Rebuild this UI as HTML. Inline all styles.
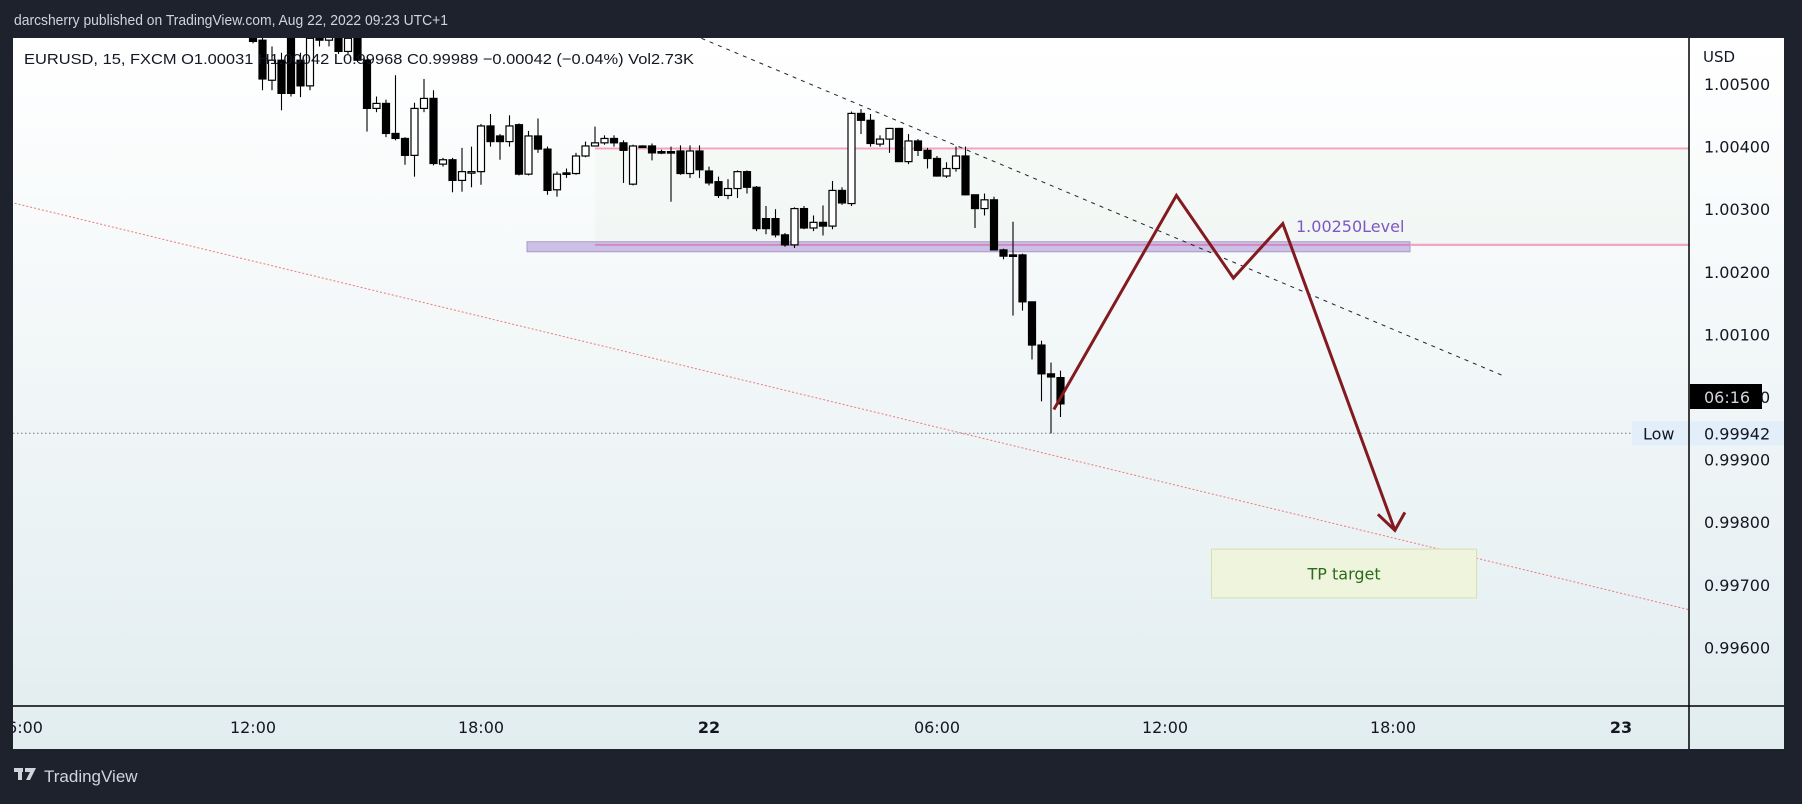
<!DOCTYPE html>
<html><head><meta charset="utf-8">
<style>
html,body{margin:0;padding:0;background:#1e222d;}
body{width:1802px;height:799px;overflow:hidden;font-family:"Liberation Sans","DejaVu Sans",sans-serif;}
svg text{font-family:"DejaVu Sans","Liberation Sans",sans-serif;}
</style></head>
<body>
<svg id="chart" width="1802" height="799" xmlns="http://www.w3.org/2000/svg">
<defs>
<linearGradient id="bg" x1="0" y1="0" x2="0" y2="1">
<stop offset="0" stop-color="#ffffff"/><stop offset="1" stop-color="#e2edf0"/>
</linearGradient>
</defs>
<rect x="0" y="0" width="1802" height="799" fill="#1e222d"/>
<text x="14" y="25" fill="#d1d4dc" font-size="15" textLength="434" lengthAdjust="spacingAndGlyphs" style="font-family:'Liberation Sans',sans-serif">darcsherry published on TradingView.com, Aug 22, 2022 09:23 UTC+1</text>
<rect x="13" y="38" width="1771" height="711" fill="url(#bg)"/>
<rect x="595" y="150" width="1094" height="94" fill="#e8f3e8" opacity="0.3"/>
<g id="plot"></g>
<line x1="13" y1="706" x2="1784" y2="706" stroke="#000" stroke-width="1.5"/>
<line x1="1689" y1="38" x2="1689" y2="749" stroke="#000" stroke-width="1.5"/>
<text x="24" y="64" fill="#131722" font-size="15" textLength="670" lengthAdjust="spacingAndGlyphs" style="font-family:'Liberation Sans',sans-serif">EURUSD, 15, FXCM  O1.00031  H1.00042  L0.99968  C0.99989  −0.00042 (−0.04%)  Vol2.73K</text>
<text x="1703" y="62" fill="#131722" font-size="15">USD</text>
<g id="yticks"></g>
<g id="xticks"></g>
<g>
<rect x="14" y="768" width="9" height="4" fill="#d1d4dc"/><rect x="18" y="768" width="4" height="12" fill="#d1d4dc"/>
<polygon points="25,768 36,768 30,780 26,780 30,772 25,772" fill="#d1d4dc"/>
<text x="44" y="782" fill="#d1d4dc" font-size="17" style="font-family:'Liberation Sans',sans-serif">TradingView</text>
</g>
</svg>
<script>
const times=[];for(let i=0;i<86;i++)times.push(i);
const opens=[1.00573,1.0057,1.00506,1.00538,1.00573,1.00538,1.00497,1.00573,1.0057,1.00573,1.00552,1.00573,1.00538,1.00461,1.00469,1.00421,1.00413,1.00386,1.00461,1.00477,1.00372,1.00379,1.00346,1.0036,1.0036,1.00433,1.00417,1.00408,1.00435,1.00356,1.00417,1.00396,1.00331,1.00358,1.00357,1.00385,1.00401,1.00406,1.00413,1.00406,1.0034,1.00401,1.00401,1.00392,1.00392,1.00393,1.00357,1.00393,1.00361,1.00344,1.00322,1.00333,1.0036,1.00335,1.00285,1.00285,1.00259,1.00243,1.00301,1.0027,1.00279,1.00273,1.0033,1.00309,1.00453,1.00442,1.00404,1.00412,1.00429,1.00376,1.00409,1.00394,1.00381,1.00353,1.00365,1.00385,1.00323,1.00301,1.00315,1.00235,1.00227,1.00227,1.00152,1.00083,1.00037,1.00031];
const highs=[1.0058,1.0058,1.0056,1.0055,1.0058,1.0055,1.0058,1.0058,1.0058,1.0058,1.0058,1.0058,1.0054,1.0048,1.00475,1.00514,1.00415,1.0047,1.00508,1.0049,1.00382,1.00382,1.00398,1.004,1.00436,1.00452,1.0042,1.0045,1.00437,1.00425,1.00445,1.004,1.0036,1.00365,1.0039,1.00408,1.00432,1.00418,1.00418,1.0041,1.00403,1.00402,1.00405,1.00395,1.004,1.00402,1.00402,1.00402,1.00368,1.00352,1.00348,1.00362,1.00362,1.00337,1.00305,1.003,1.00262,1.00303,1.00305,1.0029,1.00306,1.00345,1.00335,1.00456,1.0046,1.00452,1.00418,1.0043,1.0043,1.0042,1.00412,1.00398,1.00385,1.00375,1.004,1.004,1.00323,1.00325,1.0032,1.00237,1.0028,1.00229,1.00152,1.0009,1.00055,1.00042];
const lows=[1.00565,1.0049,1.0049,1.00458,1.0048,1.00479,1.0049,1.0056,1.0056,1.00548,1.00548,1.00535,1.00424,1.00455,1.00415,1.0041,1.00371,1.00352,1.00455,1.0037,1.00368,1.00327,1.00328,1.00335,1.00339,1.004,1.00379,1.004,1.00354,1.00354,1.0039,1.00323,1.0032,1.0035,1.00355,1.00383,1.004,1.00403,1.004,1.00342,1.00338,1.00399,1.00378,1.00388,1.00312,1.00355,1.0035,1.0035,1.00338,1.00318,1.00316,1.00318,1.00325,1.00265,1.0026,1.00255,1.0024,1.00238,1.00268,1.00265,1.00258,1.00268,1.00307,1.00305,1.0042,1.004,1.004,1.0039,1.00376,1.00372,1.00385,1.00365,1.00352,1.0035,1.0036,1.00322,1.0027,1.0029,1.00234,1.0022,1.0013,1.00138,1.0006,0.99993,0.99942,0.99968];
const closes=[1.00568,1.00508,1.00538,1.00485,1.00485,1.00497,1.00573,1.0057,1.00575,1.00552,1.00573,1.00538,1.00461,1.00469,1.00421,1.00413,1.00386,1.00461,1.00477,1.00373,1.00379,1.00346,1.0036,1.0036,1.00433,1.00408,1.00408,1.00433,1.00356,1.00417,1.00396,1.0033,1.00356,1.00356,1.00385,1.00401,1.00406,1.00413,1.00406,1.00394,1.00401,1.004,1.0039,1.00391,1.00391,1.00357,1.00393,1.00363,1.00342,1.00322,1.00333,1.0036,1.00335,1.00269,1.00269,1.00259,1.00243,1.00301,1.0027,1.00279,1.00273,1.0033,1.0031,1.00453,1.00442,1.00405,1.00412,1.00429,1.00376,1.00409,1.00394,1.00381,1.00353,1.00365,1.00385,1.00323,1.00301,1.00315,1.00235,1.00225,1.00225,1.00152,1.00083,1.00037,1.00032,0.99989];
const yTickValues=[1.005,1.004,1.003,1.002,1.001,1.000,0.999,0.998,0.997,0.996];
const xTickLabels=["6:00","12:00","18:00","22","06:00","12:00","18:00","23"];
const xTickBars=[-24,0,24,48,72,96,120,144];
const resistanceLevel=1.00397, supportLevel=1.00235, bandTop=1.00248, bandBottom=1.00232, lowValue=0.99942, lastValue=0.99989;
const trendStart=[47.2,1.00573], trendEnd=[131.6,1.00034];
const channelStart=[-25.5,1.00311], channelEnd=[151.2,0.99660];
const pathBars=[84.3,97.2,103.2,108.4,120.2];
const pathPrices=[0.99980,1.00322,1.00190,1.00277,0.99787];
const tpBox=[100.9,128.8,0.99757,0.99679];

const NS="http://www.w3.org/2000/svg";
const X=i=>253+i*9.5;
const Y=p=>84+(1.005-p)*62600;
const plot=document.getElementById('plot');
function mk(tag,attrs,parent){const e=document.createElementNS(NS,tag);for(const k in attrs)e.setAttribute(k,attrs[k]);(parent||plot).appendChild(e);return e;}
const clip=mk('clipPath',{id:'pc'});mk('rect',{x:13,y:38,width:1676,height:668},clip);
plot.setAttribute('clip-path','url(#pc)');

let e;
e=mk('line',{x1:X(channelStart[0]),y1:Y(channelStart[1]),x2:X(channelEnd[0]),y2:Y(channelEnd[1]),stroke:'#f07878','stroke-width':1,'stroke-dasharray':'2 2'});


e=mk('line',{x1:13,y1:Y(lowValue),x2:1632,y2:Y(lowValue),stroke:'#787b86','stroke-width':1,'stroke-dasharray':'1.5 2.5'});


e=mk('line',{x1:595,y1:Y(resistanceLevel),x2:1689,y2:Y(resistanceLevel),stroke:'#f3a5bf','stroke-width':2});


e=mk('rect',{x:527,y:Y(bandTop),width:883,height:Y(bandBottom)-Y(bandTop),fill:'#cdc0e6',stroke:'#a899c8','stroke-width':1});


e=mk('line',{x1:595,y1:Y(supportLevel)-5,x2:1689,y2:Y(supportLevel)-5,stroke:'#d08ac0','stroke-width':2});


e=mk('line',{x1:1410,y1:Y(supportLevel)-5,x2:1689,y2:Y(supportLevel)-5,stroke:'#f3a5bf','stroke-width':2});


e=mk('line',{x1:X(trendStart[0]),y1:Y(trendStart[1]),x2:X(trendEnd[0]),y2:Y(trendEnd[1]),stroke:'#222','stroke-width':1,'stroke-dasharray':'4 5'});



for(let i=0;i<times.length;i++){
  const o=opens[i],c=closes[i],h=highs[i],l=lows[i],x=X(times[i]);
  const g=mk('g',{});
  
  
  mk('line',{x1:x,y1:Y(h),x2:x,y2:Y(l),stroke:'#000','stroke-width':1.1},g);
  const top=Y(Math.max(o,c)),bot=Y(Math.min(o,c));
  mk('rect',{x:x-3.5,y:top,width:7,height:Math.max(1.5,bot-top),fill:c>=o?'#fff':'#000',stroke:'#000','stroke-width':1.2},g);
}

const pts=pathBars.map((b,i)=>X(b)+','+Y(pathPrices[i])).join(' ');
e=mk('polyline',{points:pts,fill:'none',stroke:'#821a20','stroke-width':3,'stroke-linejoin':'miter'});


const ex=X(pathBars[4]),ey=Y(pathPrices[4]);
e=mk('polyline',{points:(ex-17)+','+(ey-16)+' '+ex+','+ey+' '+(ex+10)+','+(ey-18),fill:'none',stroke:'#821a20','stroke-width':3});



e=mk('text',{x:1296,y:232,fill:'#7e57c2','font-size':16});
e.textContent='1.00250Level';



e=mk('rect',{x:X(tpBox[0]),y:Y(tpBox[2]),width:X(tpBox[1])-X(tpBox[0]),height:Y(tpBox[3])-Y(tpBox[2]),fill:'#eff5dc',stroke:'#d6dfae','stroke-width':1});


e=mk('text',{x:(X(tpBox[0])+X(tpBox[1]))/2,y:(Y(tpBox[2])+Y(tpBox[3]))/2+6,fill:'#2e6a1e','font-size':16,'text-anchor':'middle'});
e.textContent='TP target';



const yt=document.getElementById('yticks');
yTickValues.forEach(v=>{const t=mk('text',{x:1704,y:Y(v)+6,fill:'#131722','font-size':16},yt);t.textContent=v.toFixed(5);

});
e=mk('rect',{x:1632,y:Y(lowValue)-12,width:56,height:24,fill:'#e3eefb'},yt);


e=mk('text',{x:1643,y:Y(lowValue)+6,fill:'#131722','font-size':16},yt);e.textContent='Low';


e=mk('rect',{x:1690,y:Y(lowValue)-12,width:94,height:24,fill:'#e3eefb'},yt);


e=mk('text',{x:1704,y:Y(lowValue)+6,fill:'#131722','font-size':16},yt);e.textContent=lowValue.toFixed(5);


e=mk('rect',{x:1690,y:Y(1.0)-13,width:72,height:25,fill:'#000'},yt);


e=mk('text',{x:1704,y:Y(1.0)+6,fill:'#d1d4dc','font-size':16},yt);e.textContent='06:16';



const xt=document.getElementById('xticks');
xTickLabels.forEach((s,i)=>{const t=mk('text',{x:X(xTickBars[i]),y:733,fill:'#131722','font-size':16,'text-anchor':'middle','font-weight':s.length<3?'bold':'normal'},xt);t.textContent=s;

});
const cover=mk('rect',{x:0,y:706,width:13,height:44,fill:'#1e222d'},xt);


</script>
</body></html>
